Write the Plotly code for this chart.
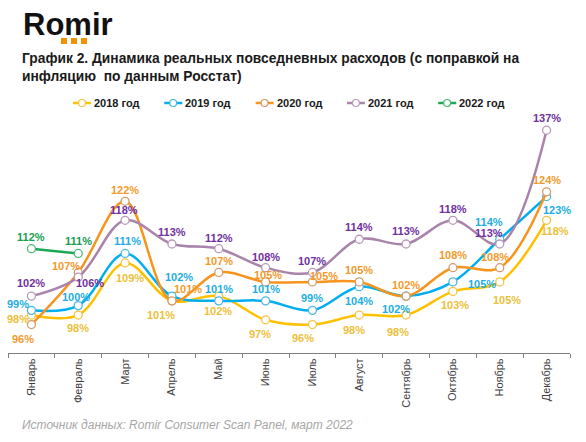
import plotly.graph_objects as go

months = ["Январь", "Февраль", "Март", "Апрель", "Май", "Июнь", "Июль",
          "Август", "Сентябрь", "Октябрь", "Ноябрь", "Декабрь"]

y2018 = [98, 98, 109, 101, 102, 97, 96, 98, 98, 103, 105, 118]
y2019 = [99, 100, 111, 102, 101, 101, 99, 104, 102, 105, 114, 123]
y2020 = [96, 107, 122, 101, 107, 105, 105, 105, 102, 108, 108, 124]
y2021 = [102, 106, 118, 113, 112, 108, 107, 114, 113, 118, 113, 137]
y2022 = [112, 111]

series_names = ["2018 год", "2019 год", "2020 год", "2021 год", "2022 год"]

# styles
line_colors = ["#FFC000", "#00AEEF", "#F7941D", "#A983AB", "#1BA954"]
marker_colors = ["#F2C443", "#4DB8E2", "#D49A6A", "#B89AB8", "#4CB878"]
label_colors = ["#EDBF3A", "#23ADE2", "#F39A2B", "#7030A0", "#17A04F"]

# label offsets (dx, dy) in pixels, dy positive = downward
offsets = [
    [(-13, 4), (0, 13), (5, 15), (-11, 14), (-1, 15), (-6, 14), (-9, 13), (-5, 15), (-8, 17), (2, 14), (7, 18), (8, 11)],
    [(-13, -6), (-2, -9), (2, -12), (7, -19), (0, -12), (0, -12), (0, -12), (0, 14), (-10, 13), (29, 2), (-11, -17), (10, 13)],
    [(-8, 14), (-12, -6), (0, -11), (16, -12), (0, -11), (2, -7), (12, -6), (0, -12), (0, -11), (0, -13), (-5, -11), (0, -12)],
    [(0, -13), (12, 6), (-1, -10), (0, -12), (0, -11), (0, -11), (0, -11), (0, -12), (0, -13), (0, -11), (-11, -11), (0, -12)],
    [(0, -12), (0, -12)],
]

W, H = 586, 442
L, R, T, B = 8, 16, 116, 89
PW, PH = W - L - R, H - T - B

def px(x):
    return (x - L) / PW

def py(y):
    return (H - B - y) / PH

FONT = "Liberation Sans, Arial, sans-serif"

fig = go.Figure()
all_series = [y2018, y2019, y2020, y2021, y2022]
for i, (name, vals) in enumerate(zip(series_names, all_series)):
    fig.add_trace(go.Scatter(
        x=months[:len(vals)], y=vals, name=name,
        mode="lines+markers",
        line=dict(color=line_colors[i], width=2.5, shape="spline", smoothing=1),
        marker=dict(symbol="circle", size=8, color="white",
                    line=dict(color=marker_colors[i], width=1.3)),
        hoverinfo="skip", showlegend=False,
    ))

annotations = []
for i, vals in enumerate(all_series):
    for j, v in enumerate(vals):
        dx, dy = offsets[i][j]
        annotations.append(dict(
            x=months[j], y=v, xref="x", yref="y", text=f"{v}%",
            showarrow=False, xshift=dx, yshift=-dy,
            font=dict(family=FONT, size=11, color=label_colors[i], weight="bold"),
        ))

annotations.append(dict(
    x=px(21), y=py(24), xref="paper", yref="paper", xanchor="left", yanchor="middle",
    text="Romir", showarrow=False,
    font=dict(family=FONT, size=31, color="#111111", weight="bold"),
))
annotations.append(dict(
    x=px(20), y=py(425), xref="paper", yref="paper", xanchor="left", yanchor="middle",
    text="<i>Источник данных: Romir Consumer Scan Panel, март 2022</i>", showarrow=False,
    font=dict(family=FONT, size=12, color="#A6A6A6"),
))

shapes = []
for sx in (61, 71, 81):
    shapes.append(dict(type="rect", xref="paper", yref="paper",
                       x0=px(sx), x1=px(sx + 6), y0=py(44), y1=py(38),
                       fillcolor="#F39200", line=dict(width=0)))

# custom legend (short line + open circle + label)
LEG_Y = 103
for i, name in enumerate(series_names):
    x0 = 73 + 91.3 * i
    shapes.append(dict(type="line", xref="paper", yref="paper",
                       x0=px(x0), x1=px(x0 + 18), y0=py(LEG_Y), y1=py(LEG_Y),
                       line=dict(color=line_colors[i], width=2.5)))
    shapes.append(dict(type="circle", xref="paper", yref="paper",
                       x0=px(x0 + 9 - 3.5), x1=px(x0 + 9 + 3.5),
                       y0=py(LEG_Y + 3.5), y1=py(LEG_Y - 3.5),
                       fillcolor="white", line=dict(color=marker_colors[i], width=1.2)))
    annotations.append(dict(
        x=px(x0 + 19), y=py(LEG_Y), xref="paper", yref="paper",
        xanchor="left", yanchor="middle", text=name, showarrow=False,
        font=dict(family=FONT, size=11, color="#1A1A1A", weight="bold"),
    ))

fig.update_layout(
    width=W, height=H, autosize=False,
    margin=dict(l=L, r=R, t=T, b=B, pad=0),
    paper_bgcolor="white", plot_bgcolor="white",
    title=dict(
        text="График 2. Динамика реальных повседневных расходов (с поправкой на<br>инфляцию  по данным Росстат)",
        x=22 / W, xanchor="left", xref="container",
        y=1 - 63 / H, yanchor="top", yref="container",
        font=dict(family=FONT, size=13.8, color="#1A1A1A", weight="bold"),
    ),
    showlegend=False,
    xaxis=dict(
        type="category", range=[-0.5, 11.5], showgrid=False, zeroline=False,
        showline=True, linecolor="#808080", linewidth=1,
        ticks="outside", tickson="boundaries", ticklen=4, tickcolor="#808080",
        tickangle=-90, tickfont=dict(family=FONT, size=11, color="#404040"),
        fixedrange=True,
    ),
    yaxis=dict(range=[90, 140], visible=False, fixedrange=True),
    annotations=annotations,
    shapes=shapes,
)

fig.write_html("out.html")
